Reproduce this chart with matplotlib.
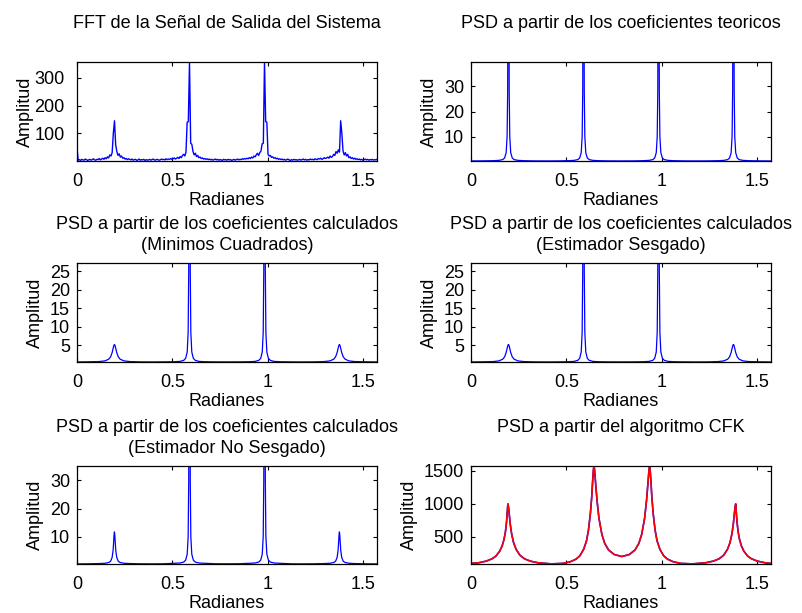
import numpy as np
import matplotlib
matplotlib.use("Agg")
import matplotlib.pyplot as plt

plt.rcParams['font.family'] = ['Liberation Sans', 'DejaVu Sans']
FS = 13

# ---------------- data ----------------
# FFT of the output signal: uniform grid 0..pi/2 (257 bins)
fft_amp = [48, 3, 5, 2, 6, 4, 3, 7, 5, 2, 4, 6, 3, 5, 8, 4,
           3, 6, 5, 9, 4, 7, 10, 6, 12, 8, 15, 11, 22, 18, 30, 100,
           145, 58, 34, 20, 26, 14, 18, 10, 12, 7, 9, 5, 8, 6, 4, 7,
           3, 5, 6, 2, 4, 7, 3, 5, 4, 6, 2, 5, 3, 4, 6, 3,
           5, 7, 4, 3, 6, 5, 3, 4, 7, 5, 6, 4, 8, 5, 7, 6,
           9, 6, 8, 11, 7, 10, 13, 9, 16, 12, 20, 24, 18, 32, 140, 142,
           357, 64, 60, 34, 22, 28, 16, 20, 12, 14, 9, 11, 7, 9, 6, 8,
           5, 7, 4, 6, 3, 5, 7, 4, 6, 3, 5, 4, 2, 6, 4, 5,
           3, 6, 4, 5, 2, 4, 6, 3, 5, 7, 4, 6, 5, 8, 6, 9,
           7, 10, 8, 12, 9, 14, 11, 18, 15, 22, 28, 20, 30, 36, 62, 64,
           357, 142, 140, 24, 18, 20, 13, 15, 10, 12, 8, 10, 6, 8, 5, 7,
           4, 6, 3, 5, 7, 4, 2, 5, 3, 6, 4, 5, 3, 4, 6, 3,
           5, 7, 4, 6, 3, 5, 4, 7, 5, 6, 4, 8, 6, 5, 9, 7,
           10, 6, 8, 12, 9, 11, 14, 10, 18, 13, 16, 24, 20, 34, 28, 40,
           32, 145, 100, 36, 22, 30, 18, 24, 12, 15, 9, 12, 7, 10, 6, 8,
           5, 7, 4, 6, 3, 5, 7, 4, 6, 3, 5, 4, 6, 3, 5, 4, 6]

# Shared frequency grid for the PSD panels (radians)
psd_freq = [0.0, 0.06,
            0.116, 0.146, 0.166, 0.176, 0.184, 0.189, 0.192, 0.194, 0.196, 0.198, 0.200, 0.203, 0.208, 0.216, 0.226, 0.246, 0.276,
            0.33, 0.393, 0.45,
            0.509, 0.539, 0.559, 0.569, 0.577, 0.582, 0.585, 0.587, 0.589, 0.591, 0.593, 0.596, 0.601, 0.609, 0.619, 0.639, 0.669,
            0.72, 0.785, 0.85,
            0.902, 0.932, 0.952, 0.962, 0.970, 0.975, 0.978, 0.980, 0.982, 0.984, 0.986, 0.989, 0.994, 1.002, 1.012, 1.032, 1.062,
            1.12, 1.178, 1.24,
            1.294, 1.324, 1.344, 1.354, 1.362, 1.367, 1.370, 1.372, 1.374, 1.376, 1.378, 1.381, 1.386, 1.394, 1.404, 1.424, 1.454,
            1.51, 1.5708]

psd_teorico = [0.32, 0.35,
               0.42, 0.55, 0.85, 1.5, 3.6, 10, 28, 90, 150, 90, 28, 10, 3.6, 1.5, 0.85, 0.55, 0.42,
               0.34, 0.32, 0.34,
               0.42, 0.55, 0.85, 1.5, 3.6, 10, 28, 90, 150, 90, 28, 10, 3.6, 1.5, 0.85, 0.55, 0.42,
               0.34, 0.32, 0.34,
               0.42, 0.55, 0.85, 1.5, 3.6, 10, 28, 90, 150, 90, 28, 10, 3.6, 1.5, 0.85, 0.55, 0.42,
               0.34, 0.32, 0.34,
               0.42, 0.55, 0.85, 1.5, 3.6, 10, 28, 90, 150, 90, 28, 10, 3.6, 1.5, 0.85, 0.55, 0.42,
               0.35, 0.32]

psd_mincuad = [0.52, 0.56,
               0.62, 0.80, 1.25, 1.90, 3.04, 4.14, 4.79, 5.09, 5.20, 5.09, 4.79, 4.14, 3.04, 1.90, 1.25, 0.80, 0.62,
               0.54, 0.52, 0.54,
               0.58, 0.66, 0.95, 1.5, 3.2, 8.5, 25, 90, 120, 90, 25, 8.5, 3.2, 1.5, 0.95, 0.66, 0.58,
               0.54, 0.53, 0.54,
               0.58, 0.66, 0.95, 1.5, 3.2, 8.5, 25, 90, 120, 90, 25, 8.5, 3.2, 1.5, 0.95, 0.66, 0.58,
               0.54, 0.52, 0.54,
               0.62, 0.80, 1.25, 1.90, 3.04, 4.14, 4.79, 5.09, 5.20, 5.09, 4.79, 4.14, 3.04, 1.90, 1.25, 0.80, 0.62,
               0.56, 0.52]

psd_sesgado = [0.52, 0.56,
               0.62, 0.80, 1.25, 1.90, 3.05, 4.15, 4.80, 5.10, 5.22, 5.10, 4.80, 4.15, 3.05, 1.90, 1.25, 0.80, 0.62,
               0.54, 0.52, 0.54,
               0.58, 0.66, 0.95, 1.5, 3.2, 8.5, 25, 90, 120, 90, 25, 8.5, 3.2, 1.5, 0.95, 0.66, 0.58,
               0.54, 0.53, 0.54,
               0.58, 0.66, 0.95, 1.5, 3.2, 8.5, 25, 90, 120, 90, 25, 8.5, 3.2, 1.5, 0.95, 0.66, 0.58,
               0.54, 0.52, 0.54,
               0.62, 0.80, 1.25, 1.90, 3.05, 4.15, 4.80, 5.10, 5.22, 5.10, 4.80, 4.15, 3.05, 1.90, 1.25, 0.80, 0.62,
               0.56, 0.52]

psd_nosesgado = [0.34, 0.38,
                 0.46, 0.56, 0.83, 1.27, 2.66, 5.1, 8.22, 10.57, 11.7, 10.57, 8.22, 5.1, 2.66, 1.27, 0.83, 0.56, 0.46,
                 0.38, 0.35, 0.38,
                 0.55, 0.66, 1.0, 1.7, 3.8, 10, 30, 110, 150, 110, 30, 10, 3.8, 1.7, 1.0, 0.66, 0.55,
                 0.40, 0.37, 0.40,
                 0.55, 0.66, 1.0, 1.7, 3.8, 10, 30, 110, 150, 110, 30, 10, 3.8, 1.7, 1.0, 0.66, 0.55,
                 0.38, 0.35, 0.38,
                 0.46, 0.56, 0.83, 1.27, 2.66, 5.1, 8.22, 10.57, 11.7, 10.57, 8.22, 5.1, 2.66, 1.27, 0.83, 0.56, 0.46,
                 0.38, 0.34]

# CFK algorithm PSD
cfk_freq = [0.0, 0.04, 0.08, 0.11, 0.13, 0.15, 0.163, 0.173, 0.18, 0.186, 0.19, 0.193, 0.196, 0.2, 0.206,
            0.213, 0.223, 0.236, 0.256, 0.28, 0.31, 0.35, 0.42, 0.48, 0.52, 0.55, 0.57, 0.59, 0.605, 0.615,
            0.625, 0.632, 0.637, 0.641, 0.644, 0.647, 0.652, 0.66, 0.67, 0.685, 0.70, 0.72, 0.75, 0.79,
            0.829, 0.859, 0.879, 0.894, 0.909, 0.919, 0.927, 0.932, 0.935, 0.938, 0.942, 0.947, 0.954, 0.964,
            0.974, 0.989, 1.009, 1.029, 1.059, 1.099, 1.159, 1.229, 1.269, 1.299, 1.323, 1.343, 1.356, 1.366,
            1.373, 1.379, 1.383, 1.386, 1.389, 1.393, 1.399, 1.406, 1.416, 1.429, 1.449, 1.469, 1.499, 1.539, 1.5708]
cfk_teorico = [95, 105, 130, 165, 205, 280, 360, 460, 570, 720, 880, 1000, 960, 850, 680,
               540, 410, 310, 220, 165, 130, 105, 88, 95, 120, 160, 210, 310, 440, 600,
               850, 1100, 1350, 1520, 1580, 1520, 1330, 1050, 780, 540, 400, 300, 230, 200,
               230, 300, 400, 540, 780, 1050, 1330, 1520, 1580, 1520, 1350, 1100, 850, 600,
               440, 310, 210, 160, 120, 95, 88, 105, 130, 165, 220, 310, 410, 540,
               680, 850, 960, 1000, 880, 720, 570, 460, 360, 280, 205, 165, 130, 105, 95]
cfk_estimado = list(cfk_teorico)

titles = ["FFT de la Señal de Salida del Sistema\n ",
          "PSD a partir de los coeficientes teoricos\n ",
          "PSD a partir de los coeficientes calculados\n(Minimos Cuadrados)",
          "PSD a partir de los coeficientes calculados\n(Estimador Sesgado)",
          "PSD a partir de los coeficientes calculados\n(Estimador No Sesgado)",
          "PSD a partir del algoritmo CFK\n "]
xticks = [0, 0.5, 1, 1.5]
xticklabels = ["0", "0.5", "1", "1.5"]
yticks = [[100, 200, 300], [10, 20, 30], [5, 10, 15, 20, 25], [5, 10, 15, 20, 25],
          [10, 20, 30], [500, 1000, 1500]]
ylims = [(0, 357), (0.3, 39.7), (0.5, 27.2), (0.5, 27.2), (0.3, 35.1), (86, 1576)]

# ---------------- figure ----------------
W, H = 803, 613
fig = plt.figure(figsize=(W / 100, H / 100), dpi=100)

lefts = [77, 471]
tops = [62, 263, 466]
bots = [161, 362, 564]
axes = []
for r in range(3):
    for c in range(2):
        ax = fig.add_axes([lefts[c] / W, 1 - bots[r] / H, 300 / W, (bots[r] - tops[r]) / H])
        axes.append(ax)

fft_freq = np.linspace(0, np.pi / 2, len(fft_amp))
blue = (0, 0, 1)
axes[0].plot(fft_freq, fft_amp, color=blue, lw=1.0)
axes[1].plot(psd_freq, psd_teorico, color=blue, lw=0.9)
axes[2].plot(psd_freq, psd_mincuad, color=blue, lw=0.9)
axes[3].plot(psd_freq, psd_sesgado, color=blue, lw=0.9)
axes[4].plot(psd_freq, psd_nosesgado, color=blue, lw=0.9)
axes[5].plot(cfk_freq, cfk_teorico, color=blue, lw=1.2)
axes[5].plot(cfk_freq, cfk_estimado, color=(1, 0, 0), lw=1.1)

for i, ax in enumerate(axes):
    ax.set_xlim(0, np.pi / 2)
    ax.set_ylim(*ylims[i])
    ax.set_xticks(xticks)
    ax.set_xticklabels(xticklabels)
    ax.set_yticks(yticks[i])
    ax.tick_params(direction='in', top=True, right=True, length=3, width=0.8, labelsize=FS)
    ax.tick_params(axis='x', pad=8.5)
    ax.tick_params(axis='y', pad=9 if i == 0 else 5)
    for s in ax.spines.values():
        s.set_linewidth(0.9)
    ax.set_xlabel("Radianes", fontsize=FS, labelpad=1.5)
    ax.set_ylabel("Amplitud", fontsize=FS, labelpad=0 if i == 0 else 4)
    ax.set_title(titles[i], fontsize=FS, pad=9.5, linespacing=1.3)

fig.savefig("out.png", dpi=100)
